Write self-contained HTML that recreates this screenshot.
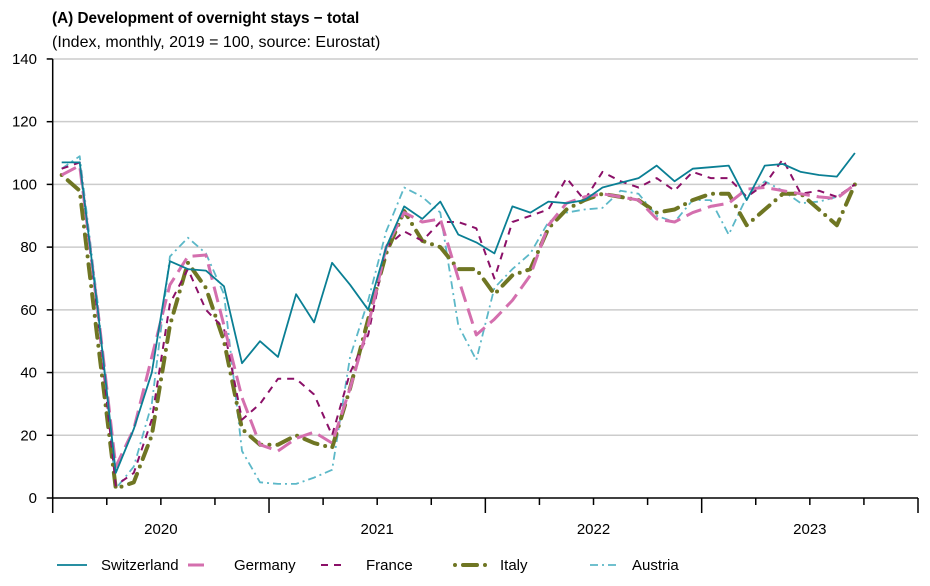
<!DOCTYPE html>
<html><head><meta charset="utf-8"><style>
body{margin:0;background:#fff;}
svg{display:block;font-family:"Liberation Sans",sans-serif;}
</style></head><body>
<svg id="s" width="930" height="586" xmlns="http://www.w3.org/2000/svg">
<text x="52" y="23" font-size="15.3" font-weight="bold">(A) Development of overnight stays − total</text>
<text x="52" y="47" font-size="16">(Index, monthly, 2019 = 100, source: Eurostat)</text>
<g id="grid"></g>
<g id="series" fill="none" stroke-linejoin="round"></g>
<g id="legend" font-size="15"></g>
</svg>
<script>
const NS="http://www.w3.org/2000/svg";
function el(p,t,a,txt){const e=document.createElementNS(NS,t);for(const k in a)e.setAttribute(k,a[k]);if(txt!==undefined)e.textContent=txt;p.appendChild(e);return e;}
const g=document.getElementById('grid');
const X0=52.7,X1=918,Y=v=>498-3.136*v;
for(let v=0;v<=140;v+=20){
 if(v>0)el(g,'line',{x1:X0,x2:X1,y1:Y(v),y2:Y(v),stroke:'#cccccc','stroke-width':1.5});
 el(g,'line',{x1:X0-6,x2:X0,y1:Y(v),y2:Y(v),stroke:'#000','stroke-width':1.5});
 el(g,'text',{x:37,y:Y(v)+5,'font-size':15,'text-anchor':'end'},v);
}
el(g,'line',{x1:X0,x2:X0,y1:Y(140),y2:498,stroke:'#000','stroke-width':1.5});
el(g,'line',{x1:X0,x2:X1,y1:498,y2:498,stroke:'#000','stroke-width':1.5});
const yr=(X1-X0)/4;
for(let i=0;i<=16;i++){const x=X0+i*yr/4;el(g,'line',{x1:x,x2:x,y1:498,y2:i%4==0?513:505,stroke:'#000','stroke-width':1.5});}
['2020','2021','2022','2023'].forEach((t,i)=>el(g,'text',{x:X0+yr*(i+0.5),y:534,'font-size':15,'text-anchor':'middle'},t));
const M=yr/12,xm=i=>X0+M/2+i*M;
const data={
sw:[107,107,60,8,22,40,75.5,73,72.5,67.5,43,50,45,65,56,75,68,60,80,93,89,94.5,84,81.5,78,93,91,94.5,94,95,99,100.5,102,106,101,105,105.5,106,95,106,106.5,104,103,102.5,110],
de:[103,106,60,10,22,45,68,77,77.5,55,32,17,15,19,21,17.5,35,55,80,91,88,89,70,52,57,63,71,87,94,96,97,96,95,89,88,91,93,94,98.5,99,98,97,96,95.5,100],
fr:[105,107,58,4,8,25,62,73,60,54,25,30,38,38,33,20,40,52,80,85,82,88,88,86,70,88,90,92,102,95,104,101,99,102,98,104,102,102,96,100,108,97,98,96,100],
it:[103,98,50,3,5,20,55,75,67,50,22,17,17,20,17.5,16,35,57,78,91.5,82,80,73,73,65,71,73,86,92,95,97,96,95,91,92,95,97,97,87,92,97,97,92,87,100],
at:[105,109,62,3,10,30,77,83,78,65,15,5,4.5,4.5,6.5,9,45,63,85,99,96,91,55,44,67,73,78,88,91,92,92.5,98,97,90,88,95,95,84,96,101,98,94,94.5,96,100]};
const st={
sw:{stroke:'#0a7f94','stroke-width':1.8},
de:{stroke:'#d46fae','stroke-width':3,'stroke-dasharray':'16 7'},
fr:{stroke:'#8b1068','stroke-width':2,'stroke-dasharray':'7 6'},
it:{stroke:'#6f7623','stroke-width':4,'stroke-dasharray':'0 8 14 8','stroke-linecap':'round'},
at:{stroke:'#5cb8c8','stroke-width':1.8,'stroke-dasharray':'8 4 2 4'}};
const s=document.getElementById('series');
['at','it','fr','de','sw'].forEach(k=>{
 const pts=data[k].map((v,i)=>xm(i).toFixed(1)+','+Y(v).toFixed(1)).join(' ');
 el(s,'polyline',Object.assign({points:pts},st[k]));
});
const L=document.getElementById('legend');
[['sw',57,87,101,'Switzerland'],['de',188,210,234,'Germany'],['fr',321,346,366,'France'],['it',455,487,500,'Italy'],['at',590,620,632,'Austria']].forEach(a=>{
 el(L,'line',Object.assign({x1:a[1],x2:a[2],y1:565,y2:565,fill:'none'},st[a[0]]));
 el(L,'text',{x:a[3],y:570},a[4]);
});
</script>
</body></html>
